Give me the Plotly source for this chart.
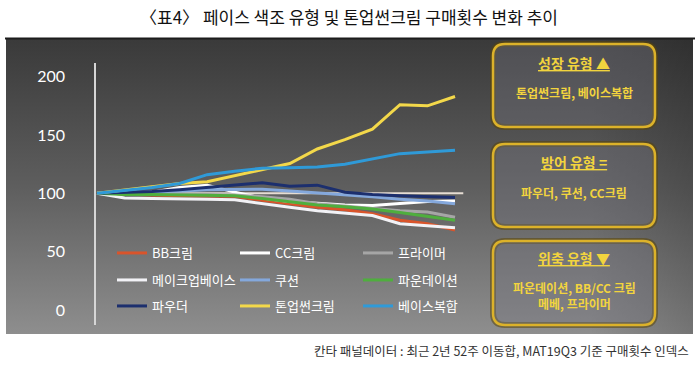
import base64
import plotly.graph_objects as go

# ---------------- data ----------------
periods = list(range(14))
series_names = ["BB크림", "CC크림", "프라이머",
                "메이크업베이스", "쿠션", "파운데이션",
                "파우더", "톤업썬크림", "베이스복합"]
bb_cream = [100, 99, 98.5, 98, 98, 97.5, 94, 91, 88, 86, 82.5, 77, 74, 68.5]
cc_cream = [100, 100, 101, 105, 107, 101, 96, 93, 91.5, 90, 89.5, 91.5, 93, 93.5]
primer = [100, 100, 99.5, 99.5, 99, 98.5, 97, 95, 91, 89, 87.5, 85, 84, 79.5]
makeup_base = [100, 96, 95.5, 95.5, 95, 94.5, 91, 88, 85, 83, 81, 74, 72.5, 70.5]
cushion = [100, 100.5, 101, 102, 103, 103, 103.5, 102, 100.5, 98.5, 97, 95, 93.5, 91]
foundation = [100, 99, 99, 98.5, 98.5, 98, 95.5, 93, 90, 88.5, 86.5, 83.5, 80, 77]
powder = [100, 100.5, 101.5, 103, 105, 107, 109, 106, 107, 101, 99, 98, 97, 96.5]
toneup_sun = [100, 103, 105.5, 108.5, 110, 115, 120.5, 125.5, 138, 146, 155, 176, 175, 183]
base_combo = [100, 102.5, 105, 108.5, 116, 119, 121.5, 122, 122.5, 125, 129.5, 134, 135.5, 137]
baseline_value = 100
baseline_end = 13.3
y_ticks = [0, 50, 100, 150, 200]

title_text = "〈표4〉 페이스 색조 유형 및 톤업썬크림 구매횟수 변화 추이"
source_text = "칸타 패널데이터 : 최근 2년 52주 이동합, MAT19Q3 기준 구매횟수 인덱스"
box_titles = ["성장 유형 ▲", "방어 유형 =", "위축 유형 ▼"]
box_bodies = ["톤업썬크림, 베이스복합", "파우더, 쿠션, CC크림", "파운데이션, BB/CC 크림<br>메베, 프라이머"]

all_values = [bb_cream, cc_cream, primer, makeup_base, cushion, foundation,
              powder, toneup_sun, base_combo]
colors = ["#d9542b", "#ffffff", "#a6a6a6", "#f2f2f6", "#84a8dc", "#4fae3e",
          "#1c2f6e", "#f3d84a", "#2f9ad8"]
legend_ids = ["legend", "legend", "legend", "legend2", "legend2", "legend2",
              "legend3", "legend3", "legend3"]

W, H = 700, 369


def px(x):
    return x / W


def py(y):
    return 1 - y / H


fig = go.Figure()
for name, vals, col, lg in zip(series_names, all_values, colors, legend_ids):
    fig.add_trace(go.Scatter(x=periods, y=vals, name=name, mode="lines",
                             line=dict(color=col, width=3), legend=lg,
                             hoverinfo="skip"))

# gradient panel as svg image
svg = ('<svg xmlns="http://www.w3.org/2000/svg" width="687" height="295" '
       'preserveAspectRatio="none">'
       '<defs><linearGradient id="g" x1="0" y1="0" x2="0" y2="1">'
       '<stop offset="0" stop-color="#3a3a3a"/>'
       '<stop offset="0.5" stop-color="#5e5e5e"/>'
       '<stop offset="1" stop-color="#8e8e8e"/></linearGradient>'
       '<linearGradient id="h" x1="0" y1="0" x2="1" y2="0">'
       '<stop offset="0.85" stop-color="#000" stop-opacity="0"/>'
       '<stop offset="1" stop-color="#000" stop-opacity="0.18"/></linearGradient></defs>'
       '<rect width="687" height="295" fill="url(#g)"/>'
       '<rect width="687" height="295" fill="url(#h)"/></svg>')
src = "data:image/svg+xml;base64," + base64.b64encode(svg.encode()).decode()
fig.add_layout_image(dict(source=src, xref="paper", yref="paper",
                          x=px(6), y=py(39), sizex=px(687), sizey=295 / H,
                          xanchor="left", yanchor="top", sizing="stretch",
                          layer="below"))

shapes = []
# black rule under title
shapes.append(dict(type="line", xref="paper", yref="paper", x0=px(5), x1=px(695),
                   y0=py(38.5), y1=py(38.5), line=dict(color="#1c1c1c", width=2)))
# reference line at 100
shapes.append(dict(type="line", xref="x", yref="y", x0=0, x1=baseline_end,
                   y0=baseline_value, y1=baseline_value,
                   line=dict(color="#e6ddd3", width=2), layer="below"))


def rrect(x0, y0, x1, y1, r):
    pts = [
        f"M{px(x0 + r)},{py(y0)}",
        f"L{px(x1 - r)},{py(y0)}",
        f"Q{px(x1)},{py(y0)} {px(x1)},{py(y0 + r)}",
        f"L{px(x1)},{py(y1 - r)}",
        f"Q{px(x1)},{py(y1)} {px(x1 - r)},{py(y1)}",
        f"L{px(x0 + r)},{py(y1)}",
        f"Q{px(x0)},{py(y1)} {px(x0)},{py(y1 - r)}",
        f"L{px(x0)},{py(y0 + r)}",
        f"Q{px(x0)},{py(y0)} {px(x0 + r)},{py(y0)}",
        "Z",
    ]
    return " ".join(pts)


boxes = [(44, 127), (144, 227), (241, 325)]
for (top, bot) in boxes:
    p = rrect(493, top, 655, bot, 12)
    shapes.append(dict(type="path", xref="paper", yref="paper", path=p,
                       line=dict(color="rgba(90,70,10,0.55)", width=6),
                       fillcolor="rgba(0,0,0,0)"))
    shapes.append(dict(type="path", xref="paper", yref="paper", path=p,
                       line=dict(color="#dcb22a", width=2.5),
                       fillcolor="rgba(115,115,125,0.38)"))

annotations = []
annotations.append(dict(text=title_text, xref="paper", yref="paper", x=px(349),
                        y=py(16), showarrow=False, xanchor="center", yanchor="middle",
                        font=dict(family="Noto Sans CJK KR", size=17, color="#111111")))
annotations.append(dict(text=source_text, xref="paper", yref="paper", x=px(691),
                        y=py(350), showarrow=False, xanchor="right", yanchor="middle",
                        font=dict(family="Noto Sans CJK KR", size=12.5, color="#333333")))
title_y = [63, 162, 258]
body_y = [92, 192, 295]
for t, b, ty, by in zip(box_titles, box_bodies, title_y, body_y):
    annotations.append(dict(text=f"<b><u>{t}</u></b>", xref="paper", yref="paper",
                            x=px(574), y=py(ty), showarrow=False, xanchor="center",
                            yanchor="middle",
                            font=dict(family="Noto Sans CJK KR", size=14, color="#f2d43e")))
    annotations.append(dict(text=f"<b>{b}</b>", xref="paper", yref="paper",
                            x=px(574), y=py(by), showarrow=False, xanchor="center",
                            yanchor="middle",
                            font=dict(family="Noto Sans CJK KR", size=12, color="#f2d43e")))

legend_common = dict(orientation="h", bgcolor="rgba(0,0,0,0)", borderwidth=0,
                     font=dict(family="Noto Sans CJK KR", size=13, color="#ffffff"),
                     entrywidth=78, entrywidthmode="pixels", itemwidth=30,
                     xanchor="left", yanchor="middle", traceorder="normal")

fig.update_layout(
    width=W, height=H,
    margin=dict(l=0, r=0, t=0, b=0),
    paper_bgcolor="#ffffff",
    plot_bgcolor="rgba(0,0,0,0)",
    showlegend=True,
    legend=dict(x=px(112), y=py(253), **legend_common),
    legend2=dict(x=px(112), y=py(280), **legend_common),
    legend3=dict(x=px(112), y=py(306), **legend_common),
    xaxis=dict(domain=[px(96), px(480)], range=[-0.0363, 13.907], visible=False,
               fixedrange=True),
    yaxis=dict(domain=[py(325), py(63)], range=[-12.86, 211.7], tickvals=y_ticks,
               showgrid=False, zeroline=False, showline=True, linecolor="#d6d6d6",
               linewidth=1.5, ticks="", ticklabelstandoff=26, fixedrange=True,
               tickfont=dict(family="Lato", size=16, color="#ffffff")),
    shapes=shapes,
    annotations=annotations,
)

fig.write_html("out.html", config={"displayModeBar": False},
               post_script="document.body.style.margin='0';")
